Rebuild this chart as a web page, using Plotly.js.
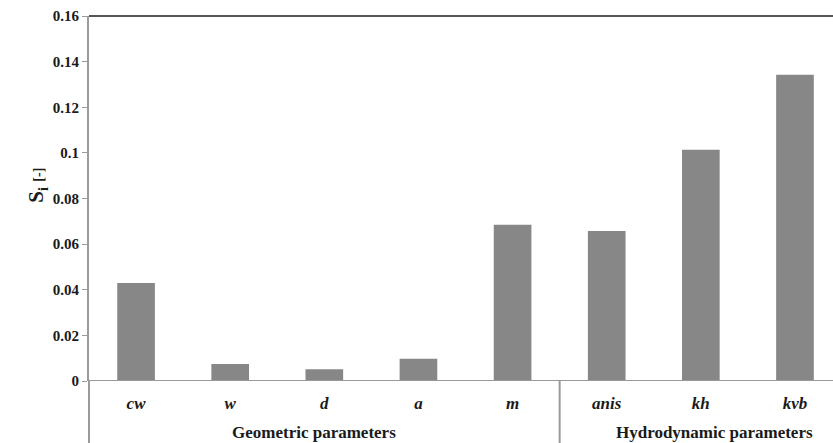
<!DOCTYPE html>
<html><head><meta charset="utf-8">
<script src="https://cdn.plot.ly/plotly-3.0.1.min.js"></script>
<style>html,body{margin:0;padding:0;background:#fff;}#chart{width:833px;height:443px;}</style>
</head><body><div id="chart"></div>
<script>
const categories = ['cw','w','d','a','m','anis','kh','kvb'];
const sensitivity = [0.0430,0.0074,0.0052,0.0097,0.0685,0.0658,0.1014,0.1343];
const groupLabels = ['Geometric parameters','Hydrodynamic parameters'];
const yTicks = [0,0.02,0.04,0.06,0.08,0.1,0.12,0.14,0.16];

const serif = "'Liberation Serif', serif";
const trace = {
  type:'bar', x:categories, y:sensitivity,
  marker:{color:'#878787', line:{width:0}},
  hoverinfo:'x+y'
};
const layout = {
  width:833, height:443,
  margin:{l:89, r:0, t:16, b:61.5},
  paper_bgcolor:'#fff', plot_bgcolor:'#fff',
  showlegend:false, bargap:0.6,
  xaxis:{
    type:'category', range:[-0.5,7.404], showgrid:false, zeroline:false,
    showline:false, ticks:'',
    tickfont:{family:serif, size:17, color:'#1a1a1a', weight:'bold', style:'italic'},
    ticklabelstandoff:10
  },
  yaxis:{
    range:[0,0.16], tickvals:yTicks, ticktext:yTicks.map(v=>String(v)),
    showgrid:false, zeroline:false, showline:true, linecolor:'#9a9a9a', linewidth:2,
    ticks:'outside', ticklen:5, tickcolor:'#9a9a9a', tickwidth:1,
    tickfont:{family:serif, size:15, color:'#1a1a1a', weight:'bold'}
  },
  shapes:[
    {type:'line', xref:'paper', yref:'paper', x0:0, x1:1, y0:1, y1:1, line:{color:'#555', width:2}},
    {type:'line', xref:'paper', yref:'y', x0:0, x1:1, y0:0, y1:0, line:{color:'#9a9a9a', width:2}},
    {type:'line', xref:'paper', yref:'paper', x0:0, x1:0, y0:0, y1:-0.17, line:{color:'#9a9a9a', width:2}},
    {type:'line', xref:'x', yref:'paper', x0:4.5, x1:4.5, y0:0, y1:-0.17, line:{color:'#9a9a9a', width:2}}
  ],
  annotations:[
    {xref:'x', yref:'paper', x:1.89, y:0, yshift:-51, text:groupLabels[0], showarrow:false,
     font:{family:serif, size:17, color:'#1a1a1a', weight:'bold'}, yanchor:'middle'},
    {xref:'x', yref:'paper', x:6.15, y:0, yshift:-51, text:groupLabels[1], showarrow:false,
     font:{family:serif, size:17, color:'#1a1a1a', weight:'bold'}, yanchor:'middle'},
    {xref:'paper', yref:'paper', x:0, xshift:-67, y:0.535, textangle:-90, showarrow:false,
     text:'S<sub>i</sub> <span style="font-size:14px">[-]</span>',
     font:{family:serif, size:21, color:'#1a1a1a', weight:'bold'}}
  ]
};
Plotly.newPlot('chart',[trace],layout,{displayModeBar:false, staticPlot:true});
</script></body></html>
